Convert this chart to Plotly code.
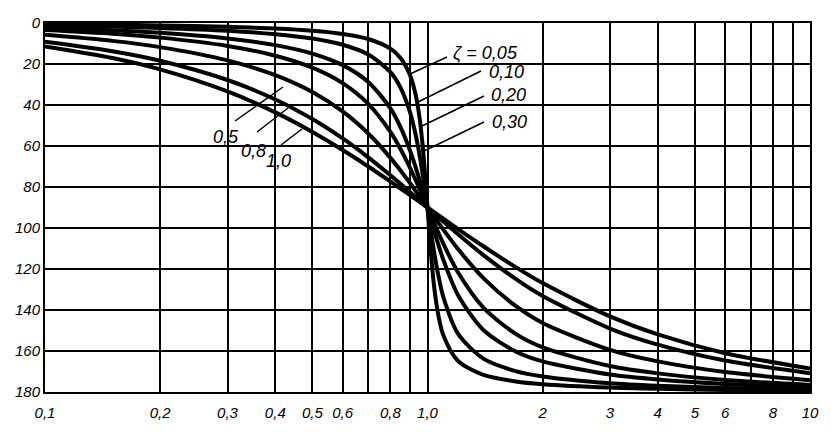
import plotly.graph_objects as go

# frequency ratio eta (log axis) and phase angle (degrees)
eta = [0.1, 0.15, 0.2, 0.3, 0.4, 0.5, 0.6, 0.7, 0.8, 0.85, 0.9, 0.93, 0.95, 0.97, 0.99,
       1.0, 1.01, 1.03, 1.05, 1.07, 1.1, 1.2, 1.4, 1.7, 2, 3, 4, 6, 10]

phi_z005 = [0.58, 0.88, 1.19, 1.89, 2.73, 3.81, 5.36, 7.82, 12.53, 17.03, 25.35, 34.54, 44.26, 58.65, 78.63,
            90, 101.25, 120.59, 134.31, 143.56, 152.35, 164.74, 171.70, 174.86, 176.19, 177.85, 178.47, 179.02, 179.42]
phi_z010 = [1.16, 1.76, 2.39, 3.77, 5.44, 7.60, 10.62, 15.35, 23.96, 31.49, 43.45, 54.00, 62.83, 73.06, 84.26,
            90, 95.68, 106.47, 116.01, 124.10, 133.67, 151.39, 163.74, 169.80, 172.41, 175.71, 176.95, 178.04, 178.84]
phi_z020 = [2.31, 3.51, 4.76, 7.51, 10.78, 14.93, 20.56, 28.77, 41.63, 50.78, 62.18, 70.04, 75.61, 81.34, 87.12,
            90, 92.85, 98.41, 103.72, 108.70, 115.52, 132.51, 149.74, 160.21, 165.07, 171.47, 173.91, 176.08, 177.69]
phi_z030 = [3.47, 5.26, 7.13, 11.19, 15.95, 21.80, 29.36, 39.47, 53.13, 61.45, 70.61, 76.39, 80.29, 84.20, 88.08,
            90, 91.90, 95.63, 99.24, 102.72, 107.65, 121.43, 138.81, 151.64, 158.20, 167.32, 170.91, 174.13, 176.53]
phi_z050 = [5.77, 8.72, 11.77, 18.25, 25.46, 33.69, 43.15, 53.92, 65.77, 71.92, 78.08, 81.73, 84.14, 86.51, 88.85,
            90, 91.14, 93.38, 95.58, 97.71, 100.81, 110.14, 124.44, 138.03, 146.31, 159.44, 165.07, 170.27, 174.23]
phi_z080 = [9.18, 13.79, 18.43, 27.81, 37.30, 46.85, 56.31, 65.52, 74.29, 78.47, 82.48, 84.81, 86.33, 87.82, 89.28,
            90, 90.71, 92.12, 93.49, 94.84, 96.80, 102.91, 113.20, 124.79, 133.15, 149.04, 156.89, 164.66, 170.82]
phi_z100 = [11.42, 17.06, 22.62, 33.40, 43.60, 53.13, 61.93, 69.98, 77.32, 80.73, 83.97, 85.84, 87.06, 88.26, 89.43,
            90, 90.57, 91.69, 92.79, 93.88, 95.45, 100.39, 108.92, 119.07, 126.87, 143.13, 151.93, 161.08, 168.58]

series = [phi_z005, phi_z010, phi_z020, phi_z030, phi_z050, phi_z080, phi_z100]

x_tickvals = [0.1, 0.2, 0.3, 0.4, 0.5, 0.6, 0.8, 1.0, 2, 3, 4, 5, 6, 8, 10]
x_ticktext = ["0,1", "0,2", "0,3", "0,4", "0,5", "0,6", "0,8", "1,0", "2", "3", "4", "5", "6", "8", "10"]
x_minor = [0.7, 0.9, 7, 9]
y_tickvals = [0, 20, 40, 60, 80, 100, 120, 140, 160, 180]
y_ticktext = [str(v) for v in y_tickvals]

# page is offset by the 8px body margin
OFF = 8
W, H = 831 - 2 * OFF, 432 - 2 * OFF
PL, PR, PT, PB = 45, 810, 23, 392          # plot area in page pixels
ML, MT = PL - OFF, PT - OFF
MR = W - (PR - OFF)
MB = H - (PB - OFF)
PW, PH = PR - PL, PB - PT


def px(xp):
    return (xp - PL) / PW


def py(yp):
    return (PB - yp) / PH


FONT = "Liberation Sans, Arial, sans-serif"

fig = go.Figure()
for ys in series:
    fig.add_trace(go.Scatter(
        x=eta, y=ys, mode="lines",
        line=dict(color="black", width=4, shape="spline", smoothing=0.8),
        hoverinfo="skip", showlegend=False))

shapes = []
# gaps in the grid around the curve labels
gaps = [
    (243, 303, 100, 110), (398, 533, 100, 110),
    (206, 300, 141, 151), (402, 457, 141, 151),
    (417, 535, 58, 68),
    (223, 233, 112, 158), (273, 283, 86, 177),
    (421, 431, 60, 180),
]
for x0, x1, y0, y1 in gaps:
    shapes.append(dict(type="rect", xref="paper", yref="paper",
                       x0=px(x0), x1=px(x1), y0=py(y1), y1=py(y0),
                       fillcolor="white", line=dict(width=0), layer="between"))

leaders = [
    (447, 57, 410, 74), (481, 71, 418, 102), (484, 96, 422, 126), (484, 122, 424, 151),
    (235, 121, 283, 87), (257, 132, 288, 108), (281, 145, 302, 129),
]
for x0, y0, x1, y1 in leaders:
    shapes.append(dict(type="line", xref="paper", yref="paper",
                       x0=px(x0), y0=py(y0), x1=px(x1), y1=py(y1),
                       line=dict(color="black", width=1.5), layer="above"))

labels = [
    ("ζ = 0,05", 451, 53, "left"),
    ("0,10", 487, 72, "left"),
    ("0,20", 489, 95, "left"),
    ("0,30", 490, 122, "left"),
    ("0,5", 226, 137, "center"),
    ("0,8", 254, 151, "center"),
    ("1,0", 278, 161, "center"),
]
annotations = []
for t, xx, yy, anc in labels:
    annotations.append(dict(text=t, xref="paper", yref="paper", x=px(xx), y=py(yy),
                            xanchor=anc, yanchor="middle", showarrow=False,
                            font=dict(family=FONT, size=18, color="black", style="italic")))

axis_common = dict(showgrid=True, gridcolor="black", gridwidth=1.5,
                   showline=True, linecolor="black", linewidth=2, mirror=True,
                   ticks="", zeroline=False,
                   tickfont=dict(family=FONT, size=15, color="black", style="italic"))

fig.update_layout(
    width=W, height=H,
    margin=dict(l=ML, r=MR, t=MT, b=MB, autoexpand=False),
    paper_bgcolor="white", plot_bgcolor="white",
    showlegend=False,
    xaxis=dict(type="log", range=[-1, 1], tickvals=x_tickvals, ticktext=x_ticktext,
               minor=dict(tickvals=x_minor, showgrid=True, gridcolor="black", gridwidth=1.5, ticks=""),
               ticklabelstandoff=6, **axis_common),
    yaxis=dict(range=[180, 0], tickvals=y_tickvals, ticktext=y_ticktext,
               ticklabelstandoff=0, **axis_common),
    shapes=shapes,
    annotations=annotations,
)

fig.write_html("out.html")
